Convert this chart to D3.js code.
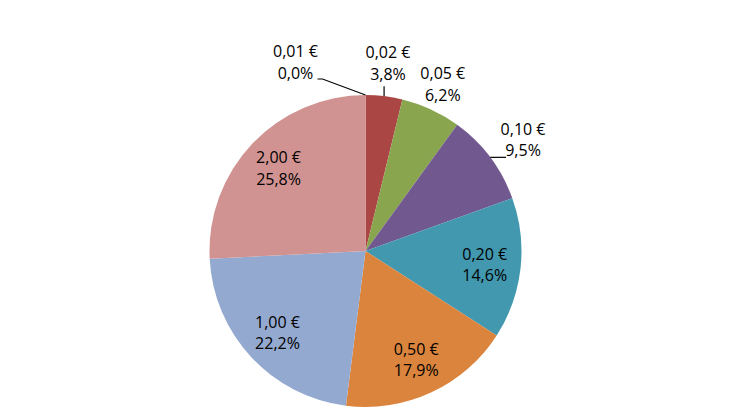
<!DOCTYPE html>
<html>
<head>
<meta charset="utf-8">
<script src="https://cdn.jsdelivr.net/npm/d3@7"></script>
<style>
  html, body { margin: 0; padding: 0; background: #fff; }
  text { font-family: "Open Sans", "Noto Sans", sans-serif; font-size: 16px; fill: #000; }
</style>
</head>
<body>
<div id="chart"></div>
<script>
// coin denominations and their share (%)
const coins = ["0,01 €", "0,02 €", "0,05 €", "0,10 €", "0,20 €", "0,50 €", "1,00 €", "2,00 €"];
const shares = [0.0, 3.8, 6.2, 9.5, 14.6, 17.9, 22.2, 25.8];
const shareLabels = ["0,0%", "3,8%", "6,2%", "9,5%", "14,6%", "17,9%", "22,2%", "25,8%"];
const colors = ["#4572A7", "#AA4643", "#89A54E", "#71588F", "#4198AF", "#DB843D", "#93A9CF", "#D19392"];

const svgWidth = 730, svgHeight = 410;
const cx = 365.5, cy = 251, radius = 156;

const data = coins.map((c, i) => ({ coin: c, value: shares[i], label: shareLabels[i], color: colors[i] }));

const svg = d3.select("#chart").append("svg")
    .attr("width", svgWidth)
    .attr("height", svgHeight);

const g = svg.append("g")
    .attr("transform", "translate(" + cx + "," + cy + ")");

const pie = d3.pie()
    .sort(null)
    .value(d => d.value);

const arcs = pie(data);

const arc = d3.arc().innerRadius(0).outerRadius(radius);
const inner = d3.arc().innerRadius(120).outerRadius(120);

// slices
g.selectAll("path.slice")
  .data(arcs)
  .enter().append("path")
    .attr("class", "slice")
    .attr("fill", d => d.data.color)
    .attr("d", arc);

// small slices get their label outside with a leader line
const outside = new Set([0, 1, 2, 3]);
const mid = d => (d.startAngle + d.endAngle) / 2;
const onRim = (a, r) => [r * Math.sin(a), -r * Math.cos(a)];

function labelPos(d, i) {
  if (!outside.has(i)) return inner.centroid(d);
  const a = mid(d);
  const r = i === 3 ? 192 : (i === 2 ? 184 : 189);
  const p = onRim(a, r);
  if (i === 0) p[0] -= 70; // nudge the empty slice's label away from its neighbour
  if (i === 3) { p[0] += 4; p[1] += 4; }
  return p;
}

// leader lines
const leader = d3.line();
arcs.forEach((d, i) => {
  if (!outside.has(i) || i === 2) return;
  const a = mid(d);
  const rim = onRim(a, radius);
  const lp = labelPos(d, i);
  let pts;
  if (i === 0) pts = [[lp[0] + 22, lp[1] + 17], [lp[0] + 27, lp[1] + 17], rim];
  else if (i === 1) pts = [[rim[0], lp[1] + 23], rim];
  else pts = [rim, [lp[0] - 17, rim[1]]];
  g.append("path")
    .attr("d", leader(pts))
    .attr("fill", "none")
    .attr("stroke", "#000")
    .attr("stroke-width", 1.2);
});

// labels
const labels = g.selectAll("text.lbl")
  .data(arcs)
  .enter().append("text")
    .attr("class", "lbl")
    .attr("text-anchor", "middle")
    .attr("transform", (d, i) => "translate(" + labelPos(d, i) + ")");

labels.append("tspan")
    .attr("x", 0)
    .attr("y", -10.5)
    .attr("dy", "0.35em")
    .text(d => d.data.coin);

labels.append("tspan")
    .attr("x", 0)
    .attr("y", 11)
    .attr("dy", "0.35em")
    .text(d => d.data.label);
</script>
</body>
</html>
